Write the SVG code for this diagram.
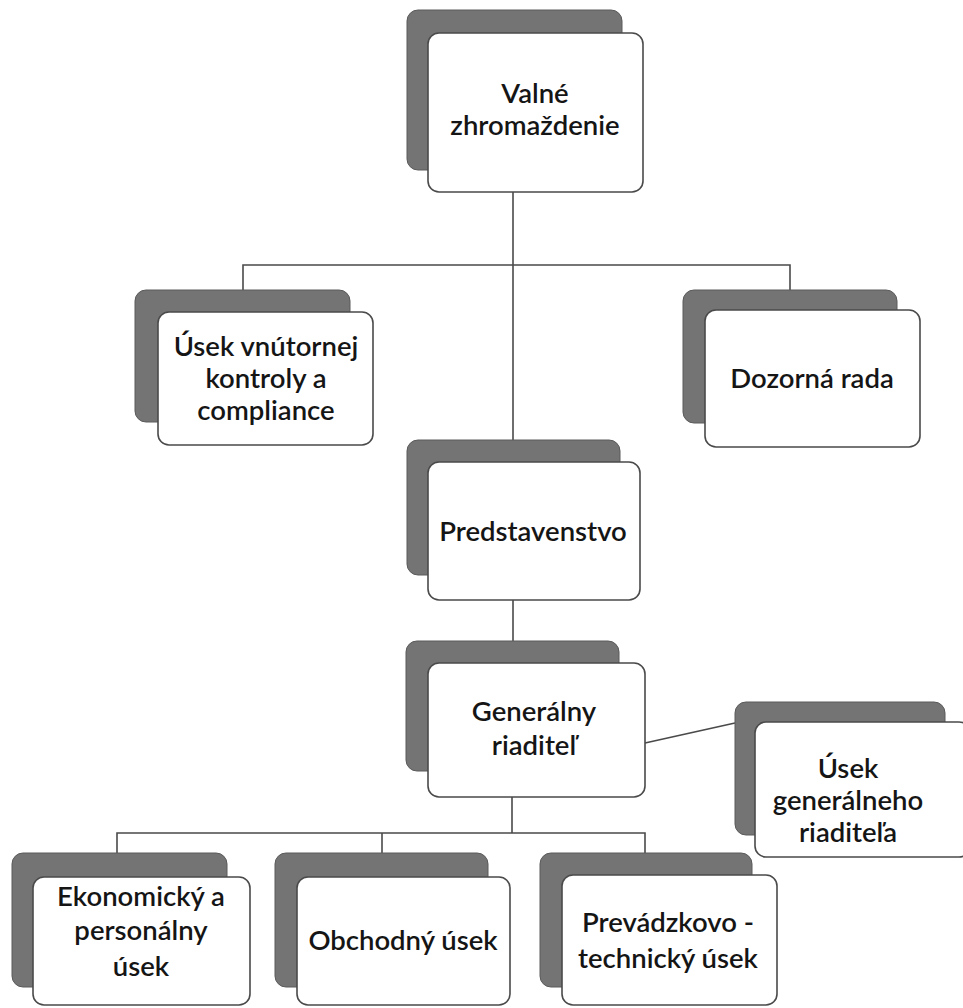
<svg xmlns="http://www.w3.org/2000/svg" width="963" height="1008" viewBox="0 0 963 1008">
<style>
.sh{fill:#747474;stroke:#5a5a5a;stroke-width:1}
.fr{fill:#ffffff;stroke:#4a4a4a;stroke-width:1.6}
.t{font-family:Lato,"Liberation Sans",sans-serif;font-size:27.5px;font-weight:600;fill:#151515;text-anchor:middle}
.c{fill:none;stroke:#4a4a4a;stroke-width:1.6}
</style>
<rect width="963" height="1008" fill="#ffffff"/>
<g id="connectors">
<path class="c" d="M513 192 V440"/>
<path class="c" d="M243 290 V265 H790 V290"/>
<path class="c" d="M513 600 V641"/>
<path class="c" d="M512 797 V833"/>
<path class="c" d="M117 853 V833 H645 V853"/>
<path class="c" d="M382 833 V853"/>
<path class="c" d="M645 743 L735 723"/>
</g>
<g id="valne">
<rect class="sh" x="407" y="10" width="215" height="160" rx="11"/>
<rect class="fr" x="428" y="33" width="215" height="159" rx="11"/>
<text class="t" x="535" y="103">Valné</text>
<text class="t" x="535" y="135">zhromaždenie</text>
</g>
<g id="usek-kontroly">
<rect class="sh" x="135" y="290" width="215" height="132" rx="11"/>
<rect class="fr" x="158" y="312" width="215" height="133" rx="11"/>
<text class="t" x="266" y="356">Úsek vnútornej</text>
<text class="t" x="266" y="388">kontroly a</text>
<text class="t" x="266" y="420">compliance</text>
</g>
<g id="dozorna">
<rect class="sh" x="683" y="290" width="214" height="133" rx="11"/>
<rect class="fr" x="705" y="310" width="215" height="137" rx="11"/>
<text class="t" x="812" y="388">Dozorná rada</text>
</g>
<g id="predstavenstvo">
<rect class="sh" x="407" y="440" width="213" height="135" rx="11"/>
<rect class="fr" x="428" y="462" width="212" height="138" rx="11"/>
<text class="t" x="533" y="541">Predstavenstvo</text>
</g>
<g id="generalny">
<rect class="sh" x="406" y="641" width="213" height="130" rx="11"/>
<rect class="fr" x="428" y="663" width="217" height="134" rx="11"/>
<text class="t" x="534" y="721">Generálny</text>
<text class="t" x="534" y="755">riaditeľ</text>
</g>
<g id="usek-gr">
<rect class="sh" x="735" y="702" width="210" height="133" rx="11"/>
<rect class="fr" x="755" y="722" width="215" height="135" rx="11"/>
<text class="t" x="848" y="778">Úsek</text>
<text class="t" x="848" y="810">generálneho</text>
<text class="t" x="848" y="842">riaditeľa</text>
</g>
<g id="ekonomicky">
<rect class="sh" x="12" y="853" width="215" height="134" rx="11"/>
<rect class="fr" x="33" y="877" width="217" height="128" rx="11"/>
<text class="t" x="141" y="906">Ekonomický a</text>
<text class="t" x="141" y="940">personálny</text>
<text class="t" x="141" y="976">úsek</text>
</g>
<g id="obchodny">
<rect class="sh" x="275" y="853" width="213" height="134" rx="11"/>
<rect class="fr" x="297" y="877" width="213" height="128" rx="11"/>
<text class="t" x="403" y="950">Obchodný úsek</text>
</g>
<g id="prevadzkovo">
<rect class="sh" x="540" y="853" width="212" height="134" rx="11"/>
<rect class="fr" x="562" y="875" width="215" height="130" rx="11"/>
<text class="t" x="668" y="932">Prevádzkovo -</text>
<text class="t" x="668" y="968">technický úsek</text>
</g>
</svg>
